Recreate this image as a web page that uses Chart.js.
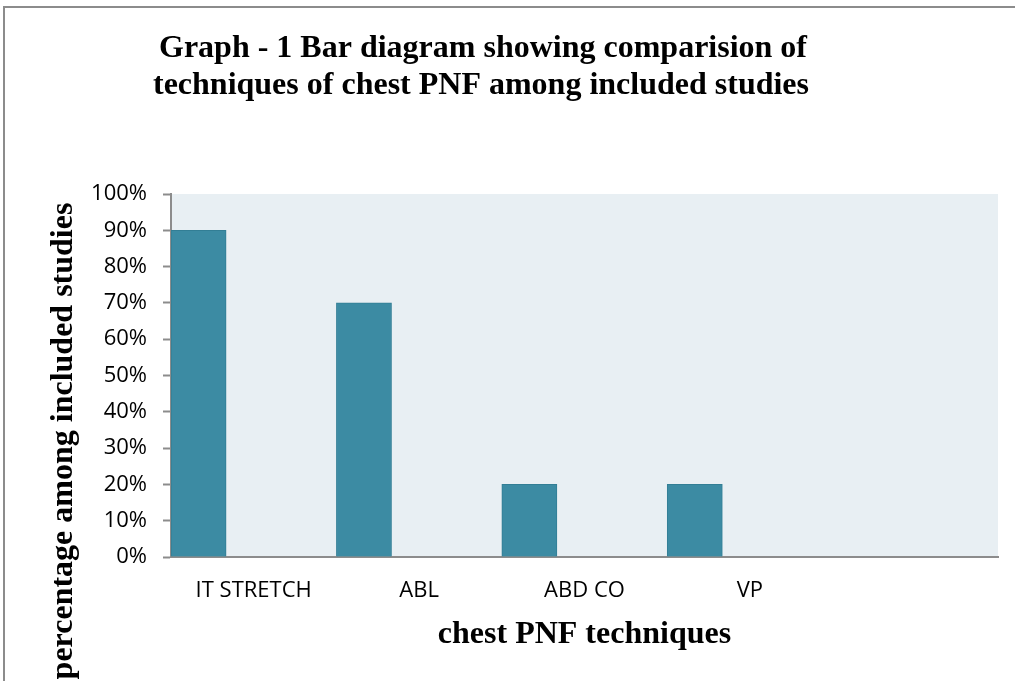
<!DOCTYPE html>
<html>
<head>
<meta charset="utf-8">
<script src="https://cdn.jsdelivr.net/npm/chart.js@4"></script>
<style>
  html, body { margin: 0; padding: 0; background: #ffffff; }
  #wrap { width: 1015px; height: 681px; position: relative; }
</style>
</head>
<body>
<div id="wrap"><canvas id="c" width="1015" height="681"></canvas></div>
<script>
// ---- data ----
const categories = ['IT STRETCH', 'ABL', 'ABD CO', 'VP', ''];
const seriesPercent = [90, 70, 20, 20, null];
const seriesEmpty2 = [null, null, null, null, null];
const seriesEmpty3 = [null, null, null, null, null];
const yTickValues = [0, 10, 20, 30, 40, 50, 60, 70, 80, 90, 100];
const titleLines = ['Graph - 1 Bar diagram showing comparision of', 'techniques of chest PNF among included studies'];
const xTitle = 'chest PNF techniques';
const yTitle = 'percentage among included studies';

const serif = '"Liberation Serif", "Times New Roman", serif';
const sans = '"Open Sans", "Noto Sans", sans-serif';

const decor = {
  id: 'decor',
  beforeDraw(chart) {
    const { ctx, chartArea: a } = chart;
    ctx.save();
    ctx.strokeStyle = '#8c8c8c';
    ctx.lineWidth = 2;
    ctx.beginPath();
    ctx.moveTo(1015, 7);
    ctx.lineTo(4, 7);
    ctx.lineTo(4, 681);
    ctx.stroke();
    ctx.fillStyle = '#e8eff3';
    ctx.fillRect(a.left, a.top, a.right - a.left, a.bottom - a.top);
    ctx.restore();
  },
  afterDraw(chart) {
    const { ctx, chartArea: a } = chart;
    ctx.save();
    ctx.fillStyle = '#000';
    ctx.textAlign = 'center';
    ctx.textBaseline = 'middle';
    ctx.font = 'bold 32px ' + serif;
    ctx.fillText(titleLines[0], 483, 49);
    ctx.fillText(titleLines[1], 481, 86);
    ctx.fillText(xTitle, (a.left + a.right) / 2, 635);
    ctx.translate(64, 441);
    ctx.rotate(-Math.PI / 2);
    ctx.fillText(yTitle, 0, 0);
    ctx.restore();
  }
};

new Chart(document.getElementById('c'), {
  type: 'bar',
  data: {
    labels: categories,
    datasets: [
      { data: seriesPercent, backgroundColor: '#3c8ba3', borderColor: '#327e95', borderWidth: 1 },
      { data: seriesEmpty2, backgroundColor: '#3c8ba3' },
      { data: seriesEmpty3, backgroundColor: '#3c8ba3' }
    ]
  },
  options: {
    responsive: false,
    animation: false,
    devicePixelRatio: 1,
    datasets: { bar: { barPercentage: 1, categoryPercentage: 1 } },
    layout: { padding: { left: 0, top: 194, right: 17, bottom: 0 } },
    plugins: { legend: { display: false }, title: { display: false }, tooltip: { enabled: false } },
    scales: {
      x: {
        grid: { display: false, drawTicks: false },
        border: { display: true, color: '#8c8c8c', width: 2 },
        ticks: { color: '#000', font: { family: sans, size: 22 }, padding: 21, maxRotation: 0, autoSkip: false },
        afterFit(s) { s.height = 124; }
      },
      y: {
        min: 0, max: 100,
        afterBuildTicks(s) { s.ticks = yTickValues.map(v => ({ value: v })); },
        grid: { drawOnChartArea: false, drawTicks: true, tickLength: 8, color: '#8c8c8c', tickWidth: 2 },
        border: { display: true, color: '#8c8c8c', width: 2 },
        ticks: { color: '#000', font: { family: sans, size: 22 }, padding: 16, callback: v => v + '%' },
        afterFit(s) { s.width = 171; }
      }
    }
  },
  plugins: [decor]
});
</script>
</body>
</html>
